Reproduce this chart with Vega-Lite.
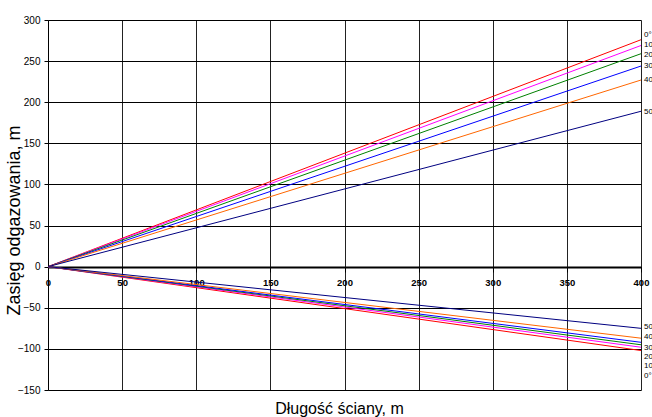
{
  "$schema": "https://vega.github.io/schema/vega-lite/v6.json",
  "width": 593,
  "height": 370,
  "autosize": {"type": "none"},
  "padding": {"left": 48, "top": 20, "right": 11, "bottom": 27},
  "background": "white",
  "config": {"view": {"stroke": null}, "font": "Liberation Sans"},
  "datasets": {
    "lines": [
      {"angle": "0°", "side": "up", "x": 0, "y": 0}, {"angle": "0°", "side": "up", "x": 400, "y": 276},
      {"angle": "10°", "side": "up", "x": 0, "y": 0}, {"angle": "10°", "side": "up", "x": 400, "y": 269},
      {"angle": "20°", "side": "up", "x": 0, "y": 0}, {"angle": "20°", "side": "up", "x": 400, "y": 259},
      {"angle": "30°", "side": "up", "x": 0, "y": 0}, {"angle": "30°", "side": "up", "x": 400, "y": 244},
      {"angle": "40°", "side": "up", "x": 0, "y": 0}, {"angle": "40°", "side": "up", "x": 400, "y": 227},
      {"angle": "50°", "side": "up", "x": 0, "y": 0}, {"angle": "50°", "side": "up", "x": 400, "y": 189},
      {"angle": "0°", "side": "down", "x": 0, "y": 0}, {"angle": "0°", "side": "down", "x": 400, "y": -102},
      {"angle": "10°", "side": "down", "x": 0, "y": 0}, {"angle": "10°", "side": "down", "x": 400, "y": -98},
      {"angle": "20°", "side": "down", "x": 0, "y": 0}, {"angle": "20°", "side": "down", "x": 400, "y": -95},
      {"angle": "30°", "side": "down", "x": 0, "y": 0}, {"angle": "30°", "side": "down", "x": 400, "y": -92},
      {"angle": "40°", "side": "down", "x": 0, "y": 0}, {"angle": "40°", "side": "down", "x": 400, "y": -87},
      {"angle": "50°", "side": "down", "x": 0, "y": 0}, {"angle": "50°", "side": "down", "x": 400, "y": -75}
    ],
    "labels": [
      {"label": "0°", "x": 400, "y": 282},
      {"label": "10°", "x": 400, "y": 269},
      {"label": "20°", "x": 400, "y": 258},
      {"label": "30°", "x": 400, "y": 244.5},
      {"label": "40°", "x": 400, "y": 227.5},
      {"label": "50°", "x": 400, "y": 188.6},
      {"label": "50°", "x": 400, "y": -73},
      {"label": "40°", "x": 400, "y": -86},
      {"label": "30°", "x": 400, "y": -98.5},
      {"label": "20°", "x": 400, "y": -109.5},
      {"label": "10°", "x": 400, "y": -120.4},
      {"label": "0°", "x": 400, "y": -132.6}
    ]
  },
  "layer": [
    {
      "data": {"name": "lines"},
      "mark": {"type": "line", "strokeWidth": 1, "clip": false},
      "encoding": {
        "x": {
          "field": "x", "type": "quantitative",
          "scale": {"domain": [0, 400], "nice": false, "zero": false},
          "axis": {
            "values": [0, 50, 100, 150, 200, 250, 300, 350, 400],
            "offset": -123,
            "domainColor": "black", "domainWidth": 2,
            "tickColor": "black", "tickSize": 5,
            "labelFont": "Liberation Sans", "labelFontSize": 9.5, "labelFontWeight": "bold", "labelColor": "black",
            "labelPadding": 5, "labelFlush": false,
            "grid": true, "gridColor": "#222222", "gridWidth": 1, "gridOpacity": 1,
            "title": "Długość ściany, m",
            "titleFont": "Liberation Sans", "titleFontSize": 16, "titleFontWeight": "normal", "titleColor": "black",
            "titleY": 146, "titleX": 291, "titleBaseline": "alphabetic", "titleAlign": "center"
          }
        },
        "y": {
          "field": "y", "type": "quantitative",
          "scale": {"domain": [-150, 300], "nice": false, "zero": false},
          "axis": {
            "values": [-150, -100, -50, 0, 50, 100, 150, 200, 250, 300],
            "domainColor": "black", "domainWidth": 1,
            "tickColor": "black", "tickSize": 4,
            "labelFont": "Liberation Sans", "labelFontSize": 10, "labelColor": "black", "labelPadding": 4,
            "grid": true, "gridColor": "black", "gridWidth": 1, "gridOpacity": 1,
            "title": "Zasięg odgazowania, m",
            "titleFont": "Liberation Sans", "titleFontSize": 18, "titleFontWeight": "normal", "titleColor": "black",
            "titleX": -34, "titleY": 200, "titleAngle": -90, "titleAlign": "center", "titleBaseline": "middle"
          }
        },
        "color": {
          "field": "angle", "type": "nominal",
          "scale": {"domain": ["0°", "10°", "20°", "30°", "40°", "50°"],
                    "range": ["#FF0000", "#FF00FF", "#008000", "#0000FF", "#FF6600", "#000080"]},
          "legend": null
        },
        "detail": {"field": "side"}
      }
    },
    {
      "data": {"name": "labels"},
      "mark": {"type": "text", "align": "left", "baseline": "middle", "dx": 3, "fontSize": 8, "font": "Liberation Sans", "color": "black", "clip": false},
      "encoding": {
        "x": {"field": "x", "type": "quantitative"},
        "y": {"field": "y", "type": "quantitative"},
        "text": {"field": "label"}
      }
    }
  ]
}
